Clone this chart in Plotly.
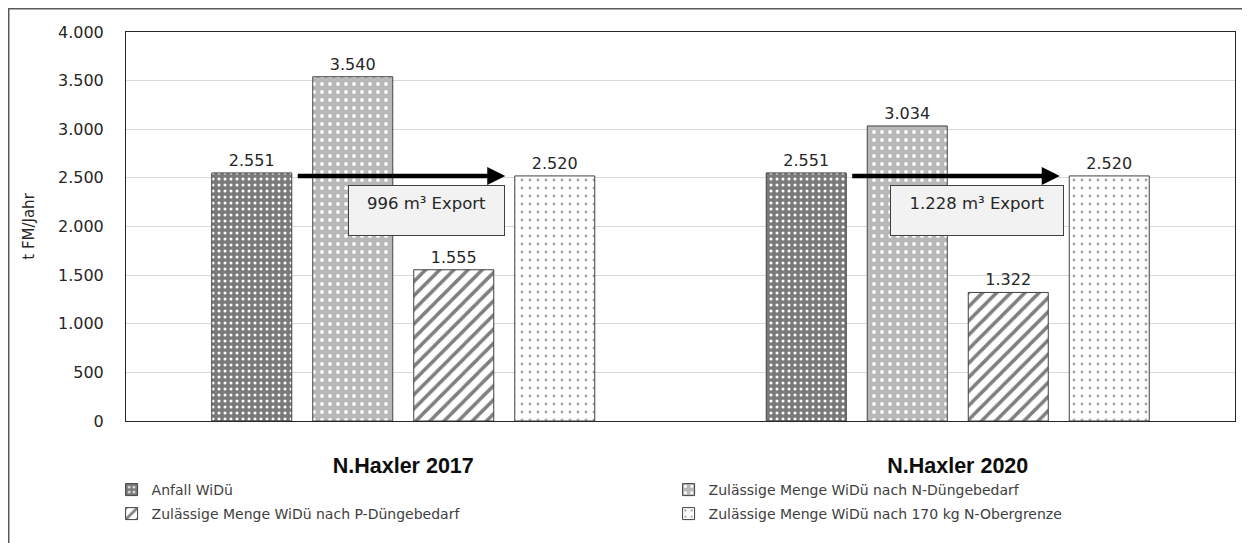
import plotly.graph_objects as go

categories = ["N.Haxler 2017", "N.Haxler 2020"]
series_names = [
    "Anfall WiDü",
    "Zulässige Menge WiDü nach N-Düngebedarf",
    "Zulässige Menge WiDü nach P-Düngebedarf",
    "Zulässige Menge WiDü nach 170 kg N-Obergrenze",
]
anfall = [2551, 2551]
n_bedarf = [3540, 3034]
p_bedarf = [1555, 1322]
obergrenze = [2520, 2520]
export_labels = ["996 m³ Export", "1.228 m³ Export"]
y_ticks = [0, 500, 1000, 1500, 2000, 2500, 3000, 3500, 4000]

series_values = [anfall, n_bedarf, p_bedarf, obergrenze]
legend_ids = ["legend", "legend", "legend2", "legend2"]
patterns = [
    dict(shape=".", fgcolor="#ffffff", bgcolor="#7a7a7a", size=6, solidity=0.2, fillmode="replace"),
    dict(shape=".", fgcolor="#ffffff", bgcolor="#b8b8b8", size=8, solidity=0.18, fillmode="replace"),
    dict(shape="/", fgcolor="#7f7f7f", bgcolor="#ffffff", size=10, solidity=0.35, fillmode="replace"),
    dict(shape=".", fgcolor="#a6a6a6", bgcolor="#ffffff", size=8, solidity=0.1, fillmode="replace"),
]

# plot area geometry (page offset of the figure is ~8px)
L, T, PW, PH = 118, 24, 1109, 389
FIG_W, FIG_H = 1250, 543

fig = go.Figure()
for name, vals, pat, lg in zip(series_names, series_values, patterns, legend_ids):
    fig.add_trace(go.Bar(
        name=name, x=categories, y=vals, legend=lg,
        marker=dict(color=pat["bgcolor"], pattern=pat, line=dict(color="#404040", width=1)),
        text=vals, texttemplate="%{y:,.0f}", textposition="outside",
        textfont=dict(family="DejaVu Sans", size=16, color="#262626"),
        cliponaxis=False,
    ))

# arrows and export boxes (x in category-index units)
arrow_tail, arrow_head = -0.193, 0.184
box_left = [-0.099, -0.123]
box_width = [139, 156]
for i, lab in enumerate(export_labels):
    fig.add_annotation(
        x=i + arrow_head, y=obergrenze[i], ax=i + arrow_tail, ay=obergrenze[i],
        xref="x", yref="y", axref="x", ayref="y",
        showarrow=True, arrowhead=2, arrowsize=0.8, arrowwidth=4.5, arrowcolor="#000000", text="",
    )
    fig.add_annotation(
        x=i + box_left[i], y=2427, xref="x", yref="y", xanchor="left", yanchor="top",
        text=lab, showarrow=False, width=box_width[i], height=33, valign="top",
        bgcolor="#f2f2f2", bordercolor="#404040", borderwidth=1, borderpad=8,
        font=dict(family="DejaVu Sans", size=16.5, color="#262626"),
    )

# outer frame at figure edges
fig.add_shape(type="rect", xref="paper", yref="paper",
              x0=(0.75 - L) / PW, x1=(FIG_W - 9 - L) / PW,
              y0=-0.5, y1=(T + PH - 0.75) / PH,
              line=dict(color="#595959", width=1.5), fillcolor="rgba(0,0,0,0)")

legend_common = dict(
    orientation="h", xanchor="left", yanchor="middle",
    entrywidth=512, entrywidthmode="pixels",
    font=dict(family="DejaVu Sans", size=14, color="#404040"),
    traceorder="normal", bgcolor="rgba(0,0,0,0)",
)

fig.update_layout(
    width=FIG_W, height=FIG_H,
    margin=dict(l=L, r=FIG_W - L - PW, t=T, b=FIG_H - T - PH, autoexpand=False),
    paper_bgcolor="white", plot_bgcolor="white",
    separators=",.",
    barmode="group", bargap=0.2714, bargroupgap=0.208,
    font=dict(family="DejaVu Sans", color="#404040"),
    showlegend=True,
    legend=dict(x=-0.013, y=(421 - 490) / PH, **legend_common),
    legend2=dict(x=-0.013, y=(421 - 514) / PH, **legend_common),
    xaxis=dict(
        automargin=False,
        showline=True, mirror=True, linecolor="#262626", linewidth=1,
        showgrid=False, ticks="", ticklabelstandoff=25,
        tickfont=dict(family="Liberation Sans", size=21.5, color="#0d0d0d", weight="bold"),
    ),
    yaxis=dict(
        automargin=False,
        range=[0, 4000], tickvals=y_ticks, tickformat=",.0f",
        showline=True, mirror=True, linecolor="#262626", linewidth=1,
        showgrid=True, gridcolor="#d9d9d9", gridwidth=1, zeroline=False,
        ticks="", ticklabelstandoff=18,
        tickfont=dict(family="DejaVu Sans", size=16, color="#262626"),
        title=dict(text="t FM/Jahr", standoff=19, font=dict(family="DejaVu Sans", size=15, color="#262626")),
    ),
)

fig.write_html("out.html")
